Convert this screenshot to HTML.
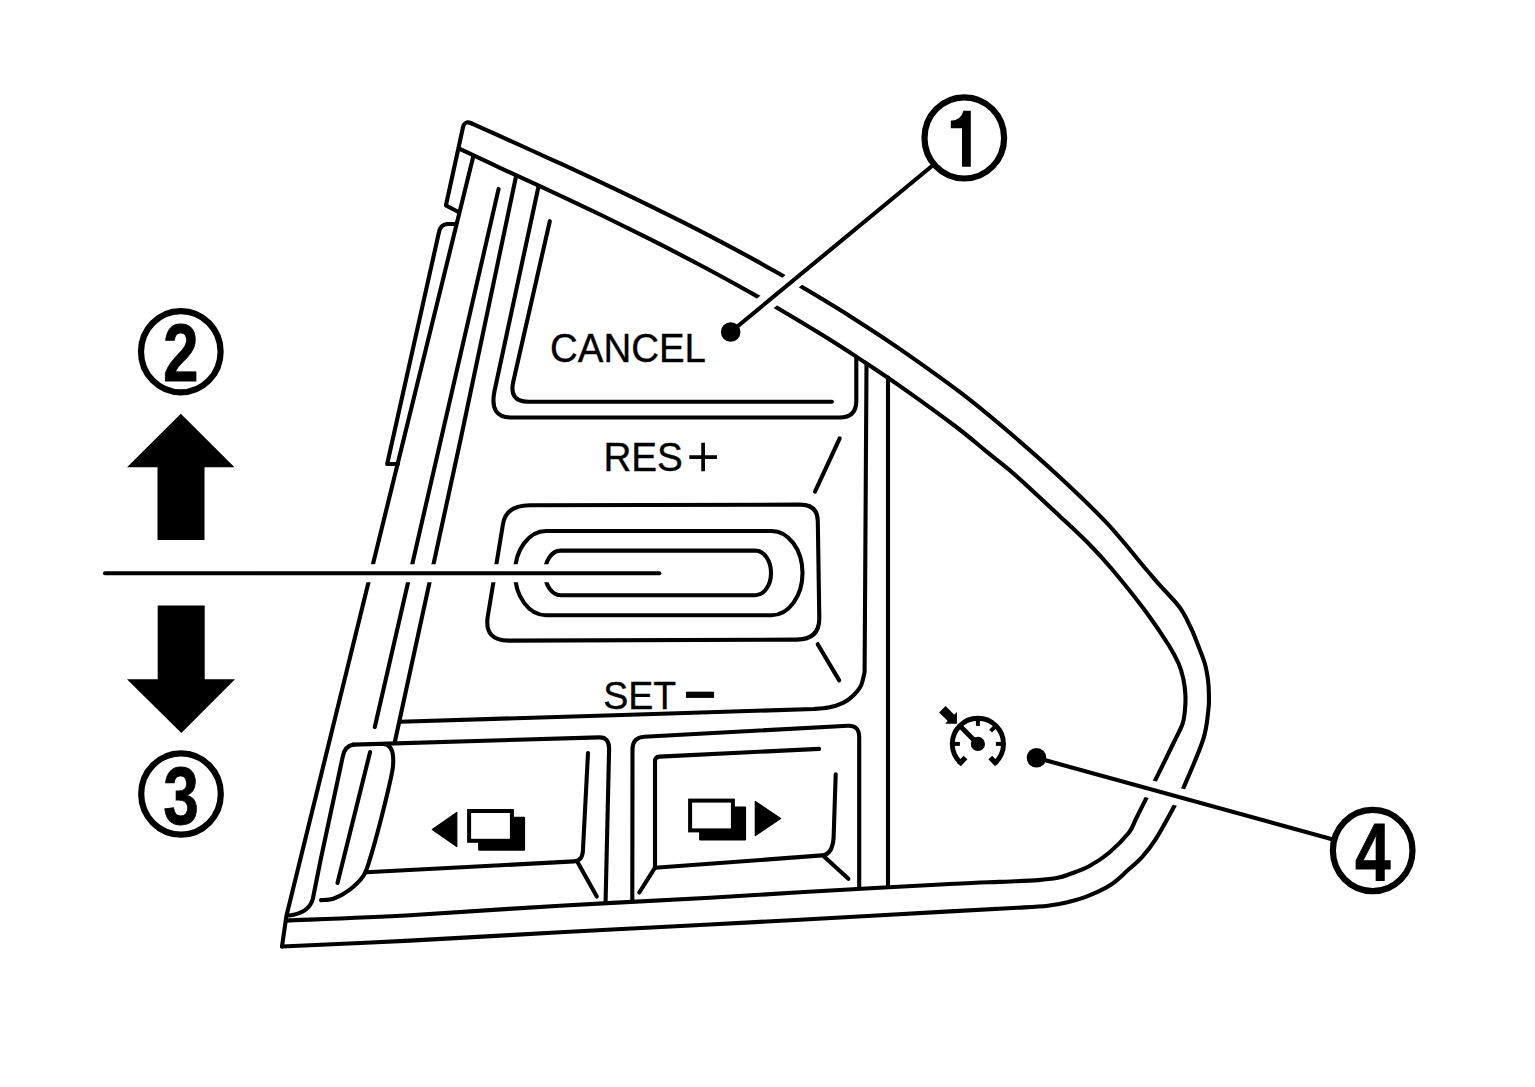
<!DOCTYPE html>
<html><head><meta charset="utf-8"><title>Steering switch</title>
<style>html,body{margin:0;padding:0;background:#fff;}svg{display:block;}text{font-family:"Liberation Sans",sans-serif;}</style></head>
<body>
<svg width="1535" height="1087" viewBox="0 0 1535 1087">
<rect width="1535" height="1087" fill="#fff"/>
<g fill="none" stroke="#000" stroke-width="4.1" stroke-linecap="round" stroke-linejoin="round">
<path d="M471.5 123.4 C476.2 125.5 486.9 130.3 500 136.2 C513.1 142.1 533.3 151.2 550 158.8 C566.7 166.4 583.3 174.1 600 181.9 C616.7 189.8 633.3 197.7 650 205.9 C666.7 214.1 683.3 222.3 700 230.9 C716.7 239.5 736 249.8 750 257.4 C764 265 775.5 271.7 784 276.5 C792.5 281.3 789.9 279.7 800.9 286.3 C811.9 292.9 833.5 305.7 850 316.2 C866.5 326.7 881.7 336.4 900 349.1 C918.3 361.8 941.7 378.2 960 392.2 C978.3 406.1 993.5 419 1009.7 432.8 C1025.9 446.6 1041.4 460.1 1057.4 475 C1073.5 489.9 1091.1 506.4 1106 522.2 C1120.9 538 1137.7 559.5 1146.7 570 C1155.7 580.5 1154.5 579.2 1160 585.4 C1165.5 591.6 1174.5 600.4 1179.6 607.3 C1184.7 614.2 1187.4 620.7 1190.5 627 C1193.6 633.3 1195.6 638.9 1198 645 C1200.4 651.1 1203.1 657.7 1204.8 663.5 C1206.5 669.3 1207.3 674.8 1208 680 C1208.7 685.2 1208.9 689.9 1208.9 695 C1209 700.1 1209.3 702.9 1208.3 710.4 C1207.3 717.9 1207.2 727 1203 740 C1198.8 753 1188 777.3 1183.3 788.2 C1178.6 799.1 1179.4 796.7 1174.8 805.3 C1170.2 813.9 1160.9 831 1155.4 839.7 C1149.9 848.4 1146.5 852.2 1141.8 857.3 C1137.1 862.4 1132.8 865.8 1127.5 870.5 C1122.2 875.2 1116.8 881 1110 885.3 C1103.2 889.6 1094.1 893.6 1087 896.4 C1079.9 899.2 1074 900.7 1067.5 902.2 C1061 903.8 1056.1 904.8 1047.9 905.7 C1039.8 906.6 1034.9 906.8 1018.6 907.7 C1002.3 908.7 986.4 909.4 950 911.4 C913.6 913.4 840 917.5 800 919.7 C760 921.9 750 922.4 710 924.5 C670 926.6 610 929.6 560 932.3 C510 935 456.3 938.2 410 940.6 C363.7 943 303.3 945.5 282 946.5"/>
<path d="M471.5 123.4 Q464.6 120.2 463 127.2 L445.9 205.5 L458.5 212"/>
<path d="M473.2 156.7 L286.4 916 L282 946.5"/>
<path d="M455.5 224 L447.5 224 Q440.5 224.5 439 232 L387.2 464 L398 464"/>
<path d="M459.2 148.6 C466 151.8 484.9 160.8 500 167.8 C515.1 174.8 533.3 183 550 190.8 C566.7 198.6 583.3 206.4 600 214.5 C616.7 222.6 633.3 230.8 650 239.2 C666.7 247.6 685 257.1 700 265 C715 272.9 730.2 281.3 740 286.7 C749.8 292.1 753 294 759 297.4 C765 300.8 766 301.3 776.2 307.3 C786.4 313.3 806 325 820 333.6 C834 342.2 846.7 350.4 860 359.1 C873.3 367.9 884.2 375 900 386.1 C915.8 397.2 940.6 415.1 955 426 C969.4 436.9 976.3 443.2 986.3 451.4 C996.3 459.6 1002.9 464.2 1015.2 475 C1027.5 485.8 1047.6 504.8 1060 516.4 C1072.4 528 1080.7 535.6 1089.5 544.5 C1098.3 553.4 1103.3 558.8 1112.7 570 C1122.1 581.2 1136.8 599.5 1146.1 612 C1155.4 624.5 1163.2 636.4 1168.6 645 C1174 653.6 1176.1 657.8 1178.6 663.5 C1181.1 669.2 1182.3 673.9 1183.4 679.1 C1184.5 684.4 1185.2 689.8 1185.4 695 C1185.7 700.2 1185.4 705.6 1184.9 710.4 C1184.4 715.2 1184.4 718.6 1182.5 724 C1180.6 729.4 1178 733.6 1173.5 743 C1169 752.4 1159.8 771.2 1155.3 780.2 C1150.8 789.2 1149.9 790.8 1146.7 797.3 C1143.5 803.8 1138.9 813 1135.9 819 C1132.9 825 1133.1 827.4 1128.6 833 C1124.1 838.6 1115.6 847.2 1109.1 852.7 C1102.6 858.2 1096 862.5 1089.5 866 C1083 869.5 1075.3 872 1070 874 C1064.7 876 1063 876.8 1057.7 877.8 C1052.4 878.8 1048 879.4 1038.2 880.1 C1028.4 880.8 1013.8 881.2 999.1 881.9 C984.4 882.5 983.2 882.3 950 884 C916.8 885.7 840 890 800 892.3 C760 894.6 750 895.5 710 897.7 C670 899.9 610 902.8 560 905.7 C510 908.6 455.6 912.7 410 915.2 C364.4 917.7 307 919.7 286.4 920.6"/>
<path d="M498.6 188.9 L374.8 727"/>
<path d="M516 176.5 L460.5 440 L394.7 742.5"/>
<path d="M538.5 186.5 L494.3 392 Q489.5 417.5 511 417.5 L839.5 417.5 Q856.3 417.5 856.3 401 L856.3 357"/>
<path d="M549.8 221.2 L513.2 382 Q509 401.7 528 401.7 L831.9 401.7"/>
<path d="M866.5 364 L864.6 672  C864 674.4 862.7 682.2 860.7 686.2 C858.7 690.2 855.7 693.2 852.8 696 C849.9 698.8 847.2 700.9 843.1 702.8 C839 704.7 833.3 706.5 828.4 707.5 C823.5 708.5 816.2 708.8 813.7 709 L630 714.8 L400.4 721.7"/>
<path d="M888 377.5 L888 885"/>
<path d="M530 505.2 L800 504.6 Q817.5 504.6 817.8 521 L819.3 618 Q819.5 639.3 797 639.6 L509 640.6 Q484.5 640.8 487.6 617.5 L503 524 Q506 505.2 530 505.2 Z"/>
<path d="M546 531 L771.5 531 A31 42.1 0 0 1 771.5 615.2 L546 615.2 A31 42.1 0 0 1 546 531 Z"/>
<path d="M560.5 550.6 L755.5 550.6 A15.5 22.3 0 0 1 755.5 595.2 L560.5 595.2 A15.5 22.3 0 0 1 560.5 550.6 Z"/>
<path d="M839.7 438.4 L815 491.7"/>
<path d="M817.7 644.2 L839.2 680.4"/>
<path d="M353.5 744.6 L599 737.4 Q609.3 737 609.1 749.1 L605.6 901"/>
<path d="M353.5 744.6 Q344.5 746 342.7 756.9 L320.6 860 L312.8 899 Q309 913 289 915.5"/>
<path d="M383 744 Q392.5 744 393.2 758 C393.1 759.8 393.5 763.8 392.7 768.8 C391.9 773.8 390.9 778.5 388.6 788.2 C386.3 798 382 815.6 378.9 827.3 C375.8 839 372.7 850.4 370.1 858.5 C367.5 866.6 366.6 870.9 363.2 876.1 C359.8 881.3 354.4 886.1 349.5 889.8 C344.6 893.5 338.7 896.8 334 898.5 C329.3 900.2 323.2 899.8 321.1 900.1"/>
<path d="M370.1 752 L337.5 883"/>
<path d="M366.2 872.2 L574 861.4 Q582.3 860.9 582.9 851 L588 753"/>
<path d="M577.2 861.5 L596.8 896.6"/>
<path d="M632.3 900.5 L632.5 749 Q632.7 737.4 644.2 736.7 L848 725.8 Q859.2 725.3 859.2 737.1 L859.2 887.3"/>
<path d="M819.1 748.9 L659.5 756.6 Q655 756.9 655 761.5 L655 867.8 L822 855.4 Q832.3 854.6 833.6 838 L835.7 774.3"/>
<path d="M654.5 868.3 L639.3 892.5"/>
<path d="M824 856.4 L848.4 878.8"/>
</g>
<g stroke="#fff" stroke-width="18" stroke-linecap="butt">
<line x1="730.7" y1="332" x2="935" y2="163.5"/>
<line x1="105" y1="573.3" x2="659.3" y2="573.3"/>
<line x1="1036.5" y1="757.8" x2="1333" y2="839.5"/>
</g>
<g stroke="#000" stroke-width="4.1" stroke-linecap="round">
<line x1="730.7" y1="332" x2="935" y2="163.5"/>
<line x1="105" y1="573.3" x2="659.3" y2="573.3"/>
<line x1="1036.5" y1="757.8" x2="1333" y2="839.5"/>
</g>
<circle cx="730.7" cy="332" r="9.8"/>
<circle cx="1036.5" cy="757.8" r="9.8"/>
<ellipse cx="964.3" cy="137.9" rx="39.8" ry="40.6" fill="#fff" stroke="#000" stroke-width="6.2"/>
<path transform="translate(964.3 137.9)" d="M6.5 -27.1 L6.5 28.8 L-2.3 28.8 L-2.3 -9.6 L-13.5 -9.6 L-13.5 -17.1 Q-3.3 -17.4 -0.8 -27.1 Z"/>
<ellipse cx="180.8" cy="351.7" rx="39.8" ry="40.6" fill="#fff" stroke="#000" stroke-width="6.2"/>
<text transform="translate(180.8 381.3) scale(0.79 1)" text-anchor="middle" stroke="#000" stroke-width="0.8" font-family="Liberation Sans, sans-serif" font-weight="bold" font-size="81">2</text>
<ellipse cx="181" cy="794" rx="39.8" ry="40.6" fill="#fff" stroke="#000" stroke-width="6.2"/>
<text transform="translate(181 823.6) scale(0.79 1)" text-anchor="middle" stroke="#000" stroke-width="0.8" font-family="Liberation Sans, sans-serif" font-weight="bold" font-size="81">3</text>
<ellipse cx="1372.7" cy="850.5" rx="39.8" ry="40.6" fill="#fff" stroke="#000" stroke-width="6.2"/>
<text transform="translate(1372.7 880.1) scale(0.79 1)" text-anchor="middle" stroke="#000" stroke-width="0.8" font-family="Liberation Sans, sans-serif" font-weight="bold" font-size="81">4</text>
<path d="M180.8 413.8 L234.5 467.3 L204.5 467.3 L204.5 540 L157.5 540 L157.5 467.3 L127 467.3 Z"/>
<path d="M181.3 733 L235 679.2 L204.7 679.2 L204.7 605.6 L157.7 605.6 L157.7 679.2 L127 679.2 Z"/>
<text x="550" y="361.9" font-family="Liberation Sans, sans-serif" stroke="#000" stroke-width="0.35" font-size="40" textLength="156" lengthAdjust="spacingAndGlyphs">CANCEL</text>
<text x="603.4" y="471.3" font-family="Liberation Sans, sans-serif" stroke="#000" stroke-width="0.35" font-size="40" textLength="79.5" lengthAdjust="spacingAndGlyphs">RES</text>
<text x="603.3" y="709" font-family="Liberation Sans, sans-serif" stroke="#000" stroke-width="0.35" font-size="39" textLength="73" lengthAdjust="spacingAndGlyphs">SET</text>
<path d="M689.3 457.1 H717 M703.1 442.8 V471.3" stroke="#000" stroke-width="3.7" fill="none"/>
<rect x="686" y="691.7" width="28.1" height="6.2"/>
<rect x="478.1" y="816.8" width="47" height="34" rx="1.2"/><rect x="469.1" y="811" width="42.8" height="29.8" fill="#fff" stroke="#000" stroke-width="4"/>
<path d="M432.3 829.4 L456.8 812.4 L456.8 846.6 Z" stroke="#000" stroke-width="1.2" stroke-linejoin="round"/>
<rect x="699.1" y="806.4" width="47" height="34" rx="1.2"/><rect x="690.1" y="800.6" width="42.8" height="29.8" fill="#fff" stroke="#000" stroke-width="4"/>
<path d="M780.6 818.4 L755.3 801.4 L755.3 835.6 Z" stroke="#000" stroke-width="1.2" stroke-linejoin="round"/>
<g fill="none" stroke="#000" stroke-width="4.9" stroke-linecap="butt">
<path d="M960.4 762.6 A25.6 25.6 0 1 1 995.4 762.6"/>
<path d="M958.9 764.6 L965.5 757.4" stroke-width="5.2"/>
<path d="M996.9 764.6 L990.3 757.4" stroke-width="5.2"/>
<path d="M953.9 743.9 L959.9 743.9" stroke-width="4"/>
<path d="M977.9 719.9 L977.9 725.9" stroke-width="4"/>
<path d="M994.9 726.9 L990.6 731.2" stroke-width="4"/>
<path d="M1001.9 743.9 L995.9 743.9" stroke-width="4"/>
<path d="M977.9 743.9 L959.8 725.8"/>
</g>
<circle cx="977.9" cy="743.9" r="7.1"/>
<path d="M939.1 712.5 L945.6 706.1 L954.2 714.7 L956.9 712 L956.9 723.7 L945.2 723.7 L947.7 721.1 Z"/>
</svg>
</body></html>
